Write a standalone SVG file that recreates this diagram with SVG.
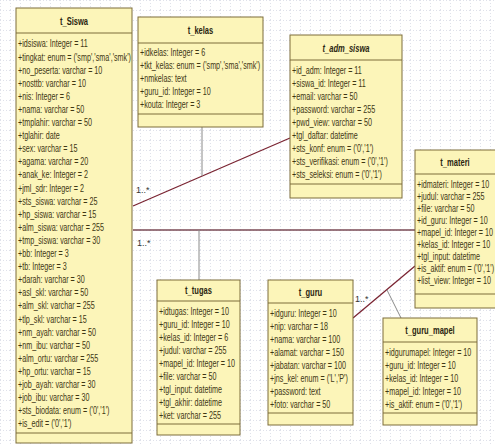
<svg xmlns="http://www.w3.org/2000/svg" width="495" height="445" viewBox="0 0 495 445">
<defs>
<pattern id="grid" width="10" height="10" patternUnits="userSpaceOnUse">
<path d="M0 0.5H10M0.5 0V10" stroke="#dfe1ea" stroke-width="1" stroke-dasharray="1 2" fill="none"/>
</pattern>
</defs>
<style>
.box{fill:#fcf5b9;stroke:#7d6c3a;stroke-width:1}
.sep{stroke:#7d6c3a;stroke-width:1}
.title{font-family:"Liberation Sans",Arial,sans-serif;font-size:10.5px;font-weight:bold;fill:#2a2510;text-anchor:middle}
.attr{font-family:"Liberation Sans",Arial,sans-serif;font-size:10px;fill:#3f3714}
.assoc{stroke:#7a2432;stroke-width:1.3;fill:none}
.link{stroke:#8a8a8a;stroke-width:1;fill:none}
.mult{font-family:"Liberation Sans",Arial,sans-serif;font-size:9px;fill:#333}
</style>
<rect width="495" height="445" fill="#ffffff"/>
<rect width="495" height="445" fill="url(#grid)"/>

<g id="connectors">
<line class="assoc" x1="133" y1="206" x2="290" y2="138"/>
<line class="link" x1="202" y1="127" x2="202" y2="176"/>
<line class="assoc" x1="133" y1="230" x2="415" y2="230" style="stroke:#7a4a55"/>
<line class="link" x1="199" y1="230" x2="199" y2="280"/>
<line class="assoc" x1="353" y1="318" x2="415" y2="266"/>
<line class="link" x1="387" y1="290" x2="401" y2="318"/>
<text class="mult" x="136" y="193">1..*</text>
<text class="mult" x="137" y="246">1..*</text>
<text class="mult" x="355" y="302">1..*</text>
</g>

<g id="t_Siswa">
<rect class="box" x="16" y="8" width="116" height="435"/>
<line class="sep" x1="16" y1="33" x2="132" y2="33"/>
<line class="sep" x1="16" y1="433" x2="132" y2="433"/>
<g transform="translate(18 0) scale(0.72 1)">
<text class="title" x="77.8" y="25">t_Siswa</text>
<text class="attr" y="34.4">
<tspan x="0" dy="13.1">+idsiswa: Integer = 11</tspan>
<tspan x="0" dy="13.1">+tingkat: enum = ('smp','sma','smk')</tspan>
<tspan x="0" dy="13.1">+no_peserta: varchar = 10</tspan>
<tspan x="0" dy="13.1">+nosttb: varchar = 10</tspan>
<tspan x="0" dy="13.1">+nis: Integer = 6</tspan>
<tspan x="0" dy="13.1">+nama: varchar = 50</tspan>
<tspan x="0" dy="13.1">+tmplahir: varchar = 50</tspan>
<tspan x="0" dy="13.1">+tglahir: date</tspan>
<tspan x="0" dy="13.1">+sex: varchar = 15</tspan>
<tspan x="0" dy="13.1">+agama: varchar = 20</tspan>
<tspan x="0" dy="13.1">+anak_ke: Integer = 2</tspan>
<tspan x="0" dy="13.1">+jml_sdr: Integer = 2</tspan>
<tspan x="0" dy="13.1">+sts_siswa: varchar = 25</tspan>
<tspan x="0" dy="13.1">+hp_siswa: varchar = 15</tspan>
<tspan x="0" dy="13.1">+alm_siswa: varchar = 255</tspan>
<tspan x="0" dy="13.1">+tmp_siswa: varchar = 30</tspan>
<tspan x="0" dy="13.1">+bb: Integer = 3</tspan>
<tspan x="0" dy="13.1">+tb: Integer = 3</tspan>
<tspan x="0" dy="13.1">+darah: varchar = 30</tspan>
<tspan x="0" dy="13.1">+asl_skl: varchar = 50</tspan>
<tspan x="0" dy="13.1">+alm_skl: varchar = 255</tspan>
<tspan x="0" dy="13.1">+tlp_skl: varchar = 15</tspan>
<tspan x="0" dy="13.1">+nm_ayah: varchar = 50</tspan>
<tspan x="0" dy="13.1">+nm_ibu: varchar = 50</tspan>
<tspan x="0" dy="13.1">+alm_ortu: varchar = 255</tspan>
<tspan x="0" dy="13.1">+hp_ortu: varchar = 15</tspan>
<tspan x="0" dy="13.1">+job_ayah: varchar = 30</tspan>
<tspan x="0" dy="13.1">+job_ibu: varchar = 30</tspan>
<tspan x="0" dy="13.1">+sts_biodata: enum = ('0','1')</tspan>
<tspan x="0" dy="13.1">+is_edit = ('0','1')</tspan>
</text>
</g>
</g>

<g id="t_kelas">
<rect class="box" x="138" y="17" width="125" height="110"/>
<line class="sep" x1="138" y1="43" x2="263" y2="43"/>
<line class="sep" x1="138" y1="114" x2="263" y2="114"/>
<g transform="translate(140 0) scale(0.72 1)">
<text class="title" x="84" y="34">t_kelas</text>
<text class="attr" y="43.5">
<tspan x="0" dy="13">+idkelas: Integer = 6</tspan>
<tspan x="0" dy="13">+tkt_kelas: enum = ('smp','sma','smk')</tspan>
<tspan x="0" dy="13">+nmkelas: text</tspan>
<tspan x="0" dy="13">+guru_id: Integer = 10</tspan>
<tspan x="0" dy="13">+kouta: Integer = 3</tspan>
</text>
</g>
</g>

<g id="t_adm_siswa">
<rect class="box" x="290" y="35" width="112" height="163"/>
<line class="sep" x1="290" y1="60" x2="402" y2="60"/>
<line class="sep" x1="290" y1="184" x2="402" y2="184"/>
<g transform="translate(292 0) scale(0.72 1)">
<text class="title" x="75" y="52" font-style="italic">t_adm_siswa</text>
<text class="attr" y="61.5">
<tspan x="0" dy="13">+id_adm: Integer = 11</tspan>
<tspan x="0" dy="13">+siswa_id: Integer = 11</tspan>
<tspan x="0" dy="13">+email: varchar = 50</tspan>
<tspan x="0" dy="13">+password: varchar = 255</tspan>
<tspan x="0" dy="13">+pwd_view: varchar = 50</tspan>
<tspan x="0" dy="13">+tgl_daftar: datetime</tspan>
<tspan x="0" dy="13">+sts_konf: enum = ('0','1')</tspan>
<tspan x="0" dy="13">+sts_verifikasi: enum = ('0','1')</tspan>
<tspan x="0" dy="13">+sts_seleksi: enum = ('0','1')</tspan>
</text>
</g>
</g>

<g id="t_materi">
<rect class="box" x="415" y="150" width="85" height="158"/>
<line class="sep" x1="415" y1="174" x2="500" y2="174"/>
<line class="sep" x1="415" y1="294" x2="500" y2="294"/>
<g transform="translate(417 0) scale(0.72 1)">
<text class="title" x="52.8" y="166">t_materi</text>
<text class="attr" y="176.5">
<tspan x="0" dy="12">+idmateri: Integer = 10</tspan>
<tspan x="0" dy="12">+judul: varchar = 255</tspan>
<tspan x="0" dy="12">+file: varchar = 50</tspan>
<tspan x="0" dy="12">+id_guru: Integer = 10</tspan>
<tspan x="0" dy="12">+mapel_id: Integer = 10</tspan>
<tspan x="0" dy="12">+kelas_id: Integer = 10</tspan>
<tspan x="0" dy="12">+tgl_input: datetime</tspan>
<tspan x="0" dy="12">+is_aktif: enum = ('0','1')</tspan>
<tspan x="0" dy="12">+list_view: Integer = 10</tspan>
</text>
</g>
</g>

<g id="t_tugas">
<rect class="box" x="157" y="280" width="83" height="155"/>
<line class="sep" x1="157" y1="301" x2="240" y2="301"/>
<line class="sep" x1="157" y1="424" x2="240" y2="424"/>
<g transform="translate(159 0) scale(0.72 1)">
<text class="title" x="54.9" y="294">t_tugas</text>
<text class="attr" y="302.5">
<tspan x="0" dy="13">+idtugas: Integer = 10</tspan>
<tspan x="0" dy="13">+guru_id: Integer = 10</tspan>
<tspan x="0" dy="13">+kelas_id: Integer = 6</tspan>
<tspan x="0" dy="13">+judul: varchar = 255</tspan>
<tspan x="0" dy="13">+mapel_id: Integer = 10</tspan>
<tspan x="0" dy="13">+file: varchar = 50</tspan>
<tspan x="0" dy="13">+tgl_input: datetime</tspan>
<tspan x="0" dy="13">+tgl_akhir: datetime</tspan>
<tspan x="0" dy="13">+ket: varchar = 255</tspan>
</text>
</g>
</g>

<g id="t_guru">
<rect class="box" x="268" y="280" width="85" height="145"/>
<line class="sep" x1="268" y1="303" x2="353" y2="303"/>
<line class="sep" x1="268" y1="413" x2="353" y2="413"/>
<g transform="translate(270 0) scale(0.72 1)">
<text class="title" x="56.25" y="296">t_guru</text>
<text class="attr" y="304.5">
<tspan x="0" dy="13">+idguru: Integer = 10</tspan>
<tspan x="0" dy="13">+nip: varchar = 18</tspan>
<tspan x="0" dy="13">+nama: varchar = 100</tspan>
<tspan x="0" dy="13">+alamat: varchar = 150</tspan>
<tspan x="0" dy="13">+jabatan: varchar = 100</tspan>
<tspan x="0" dy="13">+jns_kel: enum = ('L','P')</tspan>
<tspan x="0" dy="13">+password: text</tspan>
<tspan x="0" dy="13">+foto: varchar = 50</tspan>
</text>
</g>
</g>

<g id="t_guru_mapel">
<rect class="box" x="383" y="318" width="94" height="107"/>
<line class="sep" x1="383" y1="342" x2="477" y2="342"/>
<line class="sep" x1="383" y1="413" x2="477" y2="413"/>
<g transform="translate(385 0) scale(0.72 1)">
<text class="title" x="62.5" y="334">t_guru_mapel</text>
<text class="attr" y="343.5">
<tspan x="0" dy="13">+idgurumapel: Integer = 10</tspan>
<tspan x="0" dy="13">+guru_id: Integer = 10</tspan>
<tspan x="0" dy="13">+kelas_id: Integer = 10</tspan>
<tspan x="0" dy="13">+mapel_id: Integer = 10</tspan>
<tspan x="0" dy="13">+is_aktif: enum = ('0','1')</tspan>
</text>
</g>
</g>
</svg>
